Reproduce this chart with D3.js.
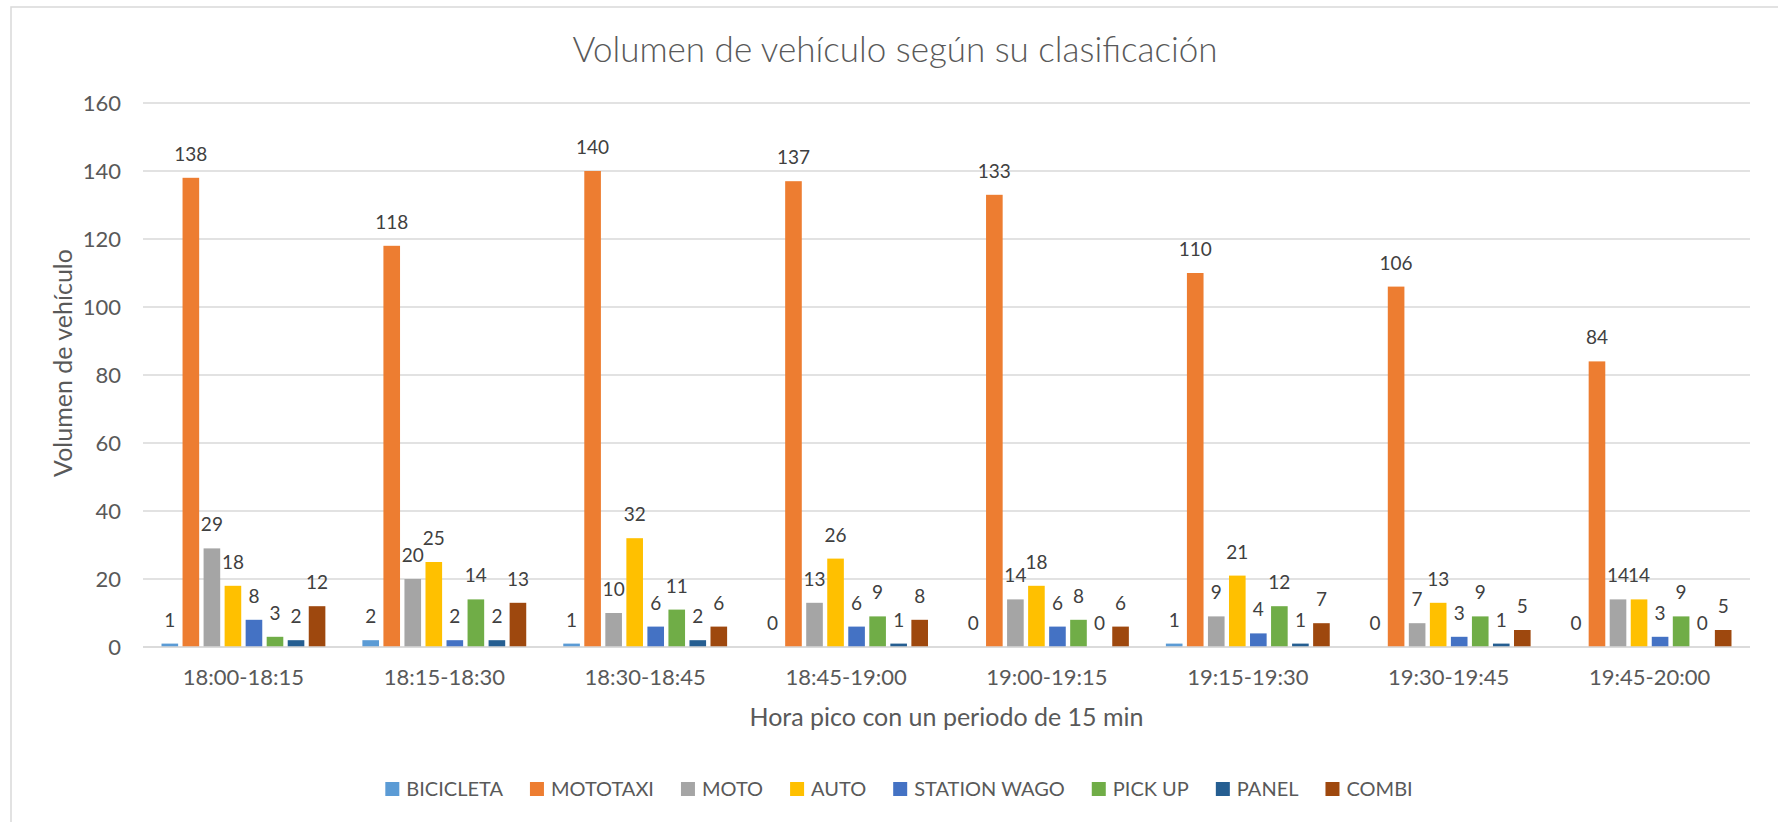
<!DOCTYPE html>
<html>
<head>
<meta charset="utf-8">
<script src="https://cdn.jsdelivr.net/npm/d3@7"></script>
<style>
  body { margin: 0; background: #fff; }
  text { font-family: Lato, "Open Sans", sans-serif; fill: #595959; }
</style>
</head>
<body>
<svg width="1778" height="822"></svg>
<script>
// periods on the x axis
var periods = ["18:00-18:15", "18:15-18:30", "18:30-18:45", "18:45-19:00",
               "19:00-19:15", "19:15-19:30", "19:30-19:45", "19:45-20:00"];

// vehicle classes (legend order)
var classes = ["BICICLETA", "MOTOTAXI", "MOTO", "AUTO", "STATION WAGO", "PICK UP", "PANEL", "COMBI"];
var colors  = ["#5b9bd5", "#ed7d31", "#a5a5a5", "#ffc000", "#4472c4", "#70ad47", "#255e91", "#9e480e"];

// counts per class, one value per period
var bicicleta = [1, 2, 1, 0, 0, 1, 0, 0];
var mototaxi  = [138, 118, 140, 137, 133, 110, 106, 84];
var moto      = [29, 20, 10, 13, 14, 9, 7, 14];
var auto      = [18, 25, 32, 26, 18, 21, 13, 14];
var station   = [8, 2, 6, 6, 6, 4, 3, 3];
var pickup    = [3, 14, 11, 9, 8, 12, 9, 9];
var panel     = [2, 2, 2, 1, 0, 1, 1, 0];
var combi     = [12, 13, 6, 8, 6, 7, 5, 5];

var yTicks = [0, 20, 40, 60, 80, 100, 120, 140, 160];

var series = [bicicleta, mototaxi, moto, auto, station, pickup, panel, combi];

var svg = d3.select("svg"),
    margin = {top: 103, right: 28, bottom: 175, left: 143},
    width = +svg.attr("width") - margin.left - margin.right,
    height = +svg.attr("height") - margin.top - margin.bottom;

// chart frame (only left and top edges are visible in the picture)
svg.append("path")
    .attr("d", "M11,822V7H1778")
    .attr("fill", "none")
    .attr("stroke", "#d9d9d9")
    .attr("stroke-width", 1.5);

svg.append("text")
    .attr("x", 895)
    .attr("y", 62)
    .attr("text-anchor", "middle")
    .style("font-size", "35px")
    .style("font-weight", 300)
    .text("Volumen de vehículo según su clasificación");

var x0 = d3.scaleBand().domain(periods).range([0, width]),
    x1 = d3.scaleBand().domain(classes).range([0, x0.bandwidth()])
        .paddingInner(0.21).paddingOuter(0.88),
    y = d3.scaleLinear().domain([0, 160]).range([height, 0]);

var chart = svg.append("g")
    .attr("transform", "translate(" + margin.left + "," + margin.top + ")");

// gridlines
chart.append("g")
    .selectAll("line")
    .data(yTicks)
  .enter().append("line")
    .attr("x1", 0)
    .attr("x2", width)
    .attr("y1", function(d) { return y(d); })
    .attr("y2", function(d) { return y(d); })
    .attr("stroke", "#d9d9d9")
    .attr("stroke-width", 1.5);

// y-axis labels
var yAxis = chart.append("g")
    .call(d3.axisLeft(y).tickValues(yTicks).tickSize(0).tickPadding(22));
yAxis.select(".domain").remove();
yAxis.selectAll("text")
    .style("font-size", "22px")
    .style("font-family", "Lato, sans-serif")
    .attr("fill", "#595959");

// x-axis labels
var xAxis = chart.append("g")
    .attr("transform", "translate(0," + height + ")")
    .call(d3.axisBottom(x0).tickSize(0).tickPadding(22));
xAxis.select(".domain").remove();
xAxis.selectAll("text")
    .style("font-size", "22px")
    .style("font-family", "Lato, sans-serif")
    .attr("fill", "#595959");

// axis titles
chart.append("text")
    .attr("x", width / 2)
    .attr("y", height + 79)
    .attr("text-anchor", "middle")
    .style("font-size", "25px")
    .text("Hora pico con un periodo de 15 min");

chart.append("text")
    .attr("transform", "translate(" + (72 - margin.left) + "," + (363 - margin.top) + ") rotate(-90)")
    .attr("text-anchor", "middle")
    .style("font-size", "25px")
    .text("Volumen de vehículo");

// bars grouped by period
var group = chart.selectAll(".period")
    .data(periods)
  .enter().append("g")
    .attr("class", "period")
    .attr("transform", function(d) { return "translate(" + x0(d) + ",0)"; });

var cell = group.selectAll(".cell")
    .data(function(p, i) {
      return classes.map(function(c, k) { return {cls: c, value: series[k][i], color: colors[k]}; });
    })
  .enter().append("g")
    .attr("class", "cell");

cell.append("rect")
    .attr("x", function(d) { return x1(d.cls); })
    .attr("y", function(d) { return y(d.value); })
    .attr("width", x1.bandwidth())
    .attr("height", function(d) { return height - y(d.value); })
    .attr("fill", function(d) { return d.color; });

// data labels
cell.append("text")
    .attr("x", function(d) { return x1(d.cls) + x1.bandwidth() / 2; })
    .attr("y", function(d) { return y(d.value) - 17; })
    .attr("text-anchor", "middle")
    .style("font-size", "19px")
    .style("fill", "#404040")
    .text(function(d) { return d.value; });

// baseline on top of bars
chart.append("line")
    .attr("x1", 0).attr("x2", width)
    .attr("y1", height).attr("y2", height)
    .attr("stroke", "#d9d9d9")
    .attr("stroke-width", 1.5);

// legend
var legend = svg.append("g");
var item = legend.selectAll(".item")
    .data(classes)
  .enter().append("g")
    .attr("class", "item");

item.append("rect")
    .attr("width", 14)
    .attr("height", 14)
    .attr("y", 782)
    .attr("fill", function(d, i) { return colors[i]; });

item.append("text")
    .attr("x", 21)
    .attr("y", 796)
    .style("font-size", "20px")
    .text(function(d) { return d; });

var offset = 0;
item.each(function() {
  var w = d3.select(this).select("text").node().getComputedTextLength();
  d3.select(this).attr("data-x", offset);
  offset += 14 + 7 + w + 27;
});
var total = offset - 27,
    start = 899 - total / 2;
item.attr("transform", function() { return "translate(" + (start + +d3.select(this).attr("data-x")) + ",0)"; });
</script>
</body>
</html>
